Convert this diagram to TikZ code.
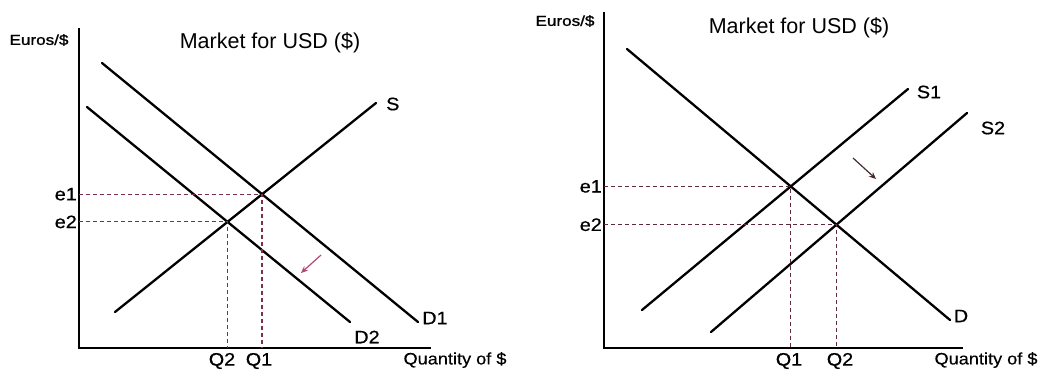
\documentclass[tikz,border=0pt]{standalone}
\usepackage{fontspec}
\setmainfont{Liberation Sans}
\newfontfamily\lblfont{Liberation Sans}[FakeBold=0.6, FakeStretch=1.1]
\newfontfamily\axfont{Liberation Sans}[FakeBold=0.4, FakeStretch=1.1]
\newfontfamily\eurofont{Liberation Sans}[FakeBold=1.2, FakeStretch=1.18]
\usetikzlibrary{arrows.meta}
\definecolor{dashL}{HTML}{7A2E50}
\definecolor{dashR}{HTML}{5E2A3C}
\definecolor{arrL}{HTML}{B0487A}
\definecolor{arrR}{HTML}{4A2A2A}
\tikzset{
  curve/.style={line width=2.3pt, line cap=round},
  axis/.style={line width=2pt},
  guide/.style={line width=1.2pt, dash pattern=on 4pt off 3pt},
  lbl/.style={font=\lblfont\fontsize{18}{20}\selectfont, inner sep=0pt},
  axlbl/.style={font=\axfont\fontsize{16.5}{18}\selectfont, inner sep=0pt},
  eurolbl/.style={font=\eurofont\fontsize{14.5}{16}\selectfont, inner sep=0pt},
  ttl/.style={font=\fontsize{21.5}{24}\selectfont, inner sep=0pt},
  shiftarrow/.style={line width=1.2pt, -{Stealth[length=7pt,width=6pt]}},
}
\begin{document}
\begin{tikzpicture}[x=1pt,y=-1pt]
\useasboundingbox (0,0) rectangle (1040,370);
% ---------------- left panel ----------------
\coordinate (LO) at (79,348);
\coordinate (LYtop) at (79,28);
\coordinate (LXend) at (431,348);
\draw[axis] (LYtop) -- (LO) -- (LXend);
\coordinate (D1a) at (102,63);  \coordinate (D1b) at (418,322);
\coordinate (D2a) at (87,107);  \coordinate (D2b) at (350,322);
\coordinate (Sa) at (115,312);  \coordinate (Sb) at (376,103);
\draw[curve] (D1a) -- (D1b);
\draw[curve] (D2a) -- (D2b);
\draw[curve] (Sa) -- (Sb);
\coordinate (LE1) at (intersection of Sa--Sb and D1a--D1b);
\coordinate (LE2) at (intersection of Sa--Sb and D2a--D2b);
\draw[guide, dashL] (LO |- LE1) -- (LE1) -- (LE1 |- LO);
\draw[guide, dashL] (LO |- LE2) -- (LE2) -- (LE2 |- LO);
\node[eurolbl] (Leuro) at (39,40) {Euros/\$};
\node[ttl] (Ltitle) at (270,43) {Market for USD (\$)};
\node[lbl, anchor=west] (LSl) at (386,104) {S};
\node[lbl] (LD1l) at (435,318) {D1};
\node[lbl] (LD2l) at (367,337) {D2};
\node[lbl, anchor=east] (Le1) at ([xshift=-2pt]LO |- LE1) {e1};
\node[lbl, anchor=east] (Le2) at ([xshift=-2pt]LO |- LE2) {e2};
\node[lbl] (LQ2) at (222,361) {Q2};
\node[lbl] (LQ1) at (259,361) {Q1};
\node[axlbl] (Lqty) at (455,360) {Quantity of \$};
\coordinate (LArrA) at (321,255);
\coordinate (LArrB) at (301,273);
\draw[shiftarrow, arrL] (LArrA) -- (LArrB);
% ---------------- right panel ----------------
\coordinate (RO) at (604,348);
\coordinate (RYtop) at (604,12);
\coordinate (RXend) at (963,348);
\draw[axis] (RYtop) -- (RO) -- (RXend);
\coordinate (Da) at (627,49);    \coordinate (Db) at (950,320);
\coordinate (S1a) at (642,310);  \coordinate (S1b) at (908,89);
\coordinate (S2a) at (711,332);  \coordinate (S2b) at (967,113);
\draw[curve] (Da) -- (Db);
\draw[curve] (S1a) -- (S1b);
\draw[curve] (S2a) -- (S2b);
\coordinate (RE1) at (intersection of S1a--S1b and Da--Db);
\coordinate (RE2) at (intersection of S2a--S2b and Da--Db);
\draw[guide, dashR] (RO |- RE1) -- (RE1) -- (RE1 |- RO);
\draw[guide, dashR] (RO |- RE2) -- (RE2) -- (RE2 |- RO);
\node[eurolbl] (Reuro) at (565,21) {Euros/\$};
\node[ttl] (Rtitle) at (799,28) {Market for USD (\$)};
\node[lbl] (RS1l) at (929,92) {S1};
\node[lbl] (RS2l) at (993,128) {S2};
\node[lbl] (RDl) at (961,316) {D};
\node[lbl, anchor=east] (Re1) at ([xshift=-2pt]RO |- RE1) {e1};
\node[lbl, anchor=east] (Re2) at ([xshift=-2pt]RO |- RE2) {e2};
\node[lbl] (RQ1) at (789,361) {Q1};
\node[lbl] (RQ2) at (840,361) {Q2};
\node[axlbl] (Rqty) at (986,360) {Quantity of \$};
\coordinate (RArrA) at (853,158);
\coordinate (RArrB) at (876,179);
\draw[shiftarrow, arrR] (RArrA) -- (RArrB);
\end{tikzpicture}
\end{document}
